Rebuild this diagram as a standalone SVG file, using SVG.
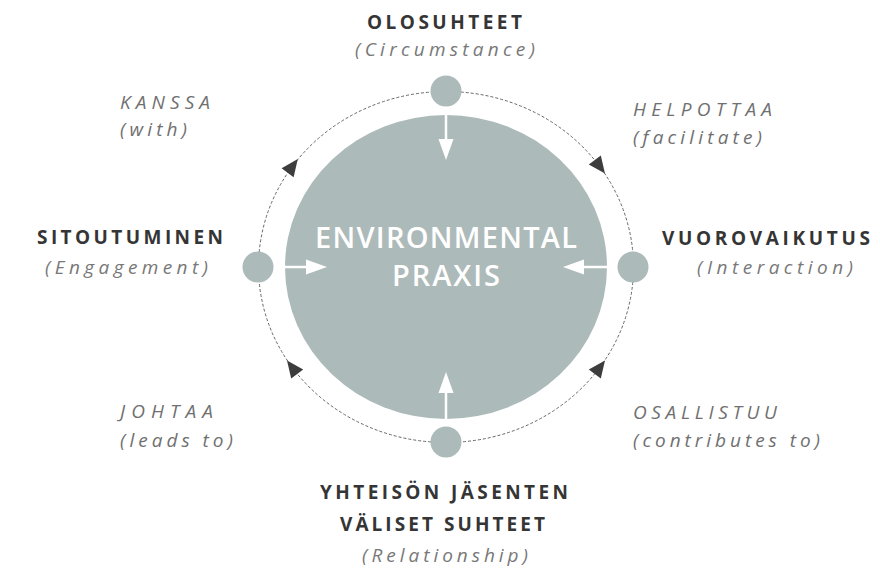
<svg xmlns="http://www.w3.org/2000/svg" xmlns:xlink="http://www.w3.org/1999/xlink" width="880" height="569" viewBox="0 0 880 569">
  <defs>
    <style>
      .fill { fill: #adbaba; }
      .title { font-family: "Open Sans", "DejaVu Sans", sans-serif; font-weight: 700; font-size: 19px; fill: #353535; }
      .sub { font-family: "Open Sans", "DejaVu Sans", sans-serif; font-style: italic; font-weight: 400; font-size: 19px; fill: #787878; }
      .edge { font-family: "Open Sans", "DejaVu Sans", sans-serif; font-style: italic; font-weight: 400; font-size: 19px; fill: #707070; }
      .center { font-family: "Open Sans", "DejaVu Sans", sans-serif; font-weight: 600; font-size: 29px; fill: #ffffff; }
      .orbit { fill: none; stroke: #666666; stroke-width: 1; stroke-dasharray: 3 2; }
      .warrow { stroke: #ffffff; stroke-width: 2.5; fill: none; }
      .dark { fill: #3d3d3d; }
    </style>
    <path id="ah" d="M9,0 L-8,-7.5 L-8,7.5 Z"/>
    <path id="wh" d="M0,0 L-21,-7.5 L-21,7.5 Z" fill="#ffffff"/>
  </defs>

  <g id="connectors">
    <ellipse class="orbit" cx="446" cy="267" rx="187.5" ry="175.5"/>
    <use xlink:href="#ah" class="dark" transform="translate(599.6,166.3) rotate(53.2)"/>
    <use xlink:href="#ah" class="dark" transform="translate(599.6,367.7) rotate(-53.2)"/>
    <use xlink:href="#ah" class="dark" transform="translate(292.4,166.3) rotate(-53.2)"/>
    <use xlink:href="#ah" class="dark" transform="translate(292.4,367.7) rotate(-126.8)"/>

    <text class="edge" x="120" y="109" textLength="90" lengthAdjust="spacing">KANSSA</text>
    <text class="edge" x="120" y="136" textLength="67" lengthAdjust="spacing">(with)</text>
    <text class="edge" x="633" y="116" textLength="139" lengthAdjust="spacing">HELPOTTAA</text>
    <text class="edge" x="633" y="144" textLength="129" lengthAdjust="spacing">(facilitate)</text>
    <text class="edge" x="120" y="418" textLength="93" lengthAdjust="spacing">JOHTAA</text>
    <text class="edge" x="120" y="447" textLength="113" lengthAdjust="spacing">(leads to)</text>
    <text class="edge" x="633" y="419" textLength="144" lengthAdjust="spacing">OSALLISTUU</text>
    <text class="edge" x="633" y="447" textLength="187" lengthAdjust="spacing">(contributes to)</text>
  </g>

  <g id="center-node">
    <ellipse class="fill" cx="446" cy="267" rx="161" ry="152"/>
    <text class="center" x="315" y="248" textLength="262" lengthAdjust="spacing">ENVIRONMENTAL</text>
    <text class="center" x="392" y="286" textLength="108" lengthAdjust="spacing">PRAXIS</text>
    <line class="warrow" x1="446" y1="106" x2="446" y2="145"/>
    <use xlink:href="#wh" transform="translate(446,160) rotate(90)"/>
    <line class="warrow" x1="446" y1="427" x2="446" y2="388"/>
    <use xlink:href="#wh" transform="translate(446,372) rotate(-90)"/>
    <line class="warrow" x1="273" y1="267" x2="312" y2="267"/>
    <use xlink:href="#wh" transform="translate(327,267)"/>
    <line class="warrow" x1="618" y1="267" x2="578" y2="267"/>
    <use xlink:href="#wh" transform="translate(563,267) rotate(180)"/>
  </g>

  <g id="node-top">
    <circle class="fill" cx="446" cy="91" r="15.5"/>
    <text class="title" x="367" y="29" textLength="155" lengthAdjust="spacing">OLOSUHTEET</text>
    <text class="sub" x="355" y="56" textLength="180" lengthAdjust="spacing">(Circumstance)</text>
  </g>

  <g id="node-right">
    <circle class="fill" cx="633" cy="267" r="15.5"/>
    <text class="title" x="662" y="245" textLength="208" lengthAdjust="spacing">VUOROVAIKUTUS</text>
    <text class="sub" x="697" y="274" textLength="156" lengthAdjust="spacing">(Interaction)</text>
  </g>

  <g id="node-bottom">
    <circle class="fill" cx="446" cy="442" r="15.5"/>
    <text class="title" x="320" y="499" textLength="248" lengthAdjust="spacing">YHTEISÖN JÄSENTEN</text>
    <text class="title" x="340" y="531" textLength="205" lengthAdjust="spacing">VÄLISET SUHTEET</text>
    <text class="sub" x="362" y="562" textLength="166" lengthAdjust="spacing">(Relationship)</text>
  </g>

  <g id="node-left">
    <circle class="fill" cx="258" cy="267" r="15.5"/>
    <text class="title" x="37" y="244" textLength="186" lengthAdjust="spacing">SITOUTUMINEN</text>
    <text class="sub" x="45" y="274" textLength="163" lengthAdjust="spacing">(Engagement)</text>
  </g>
</svg>
